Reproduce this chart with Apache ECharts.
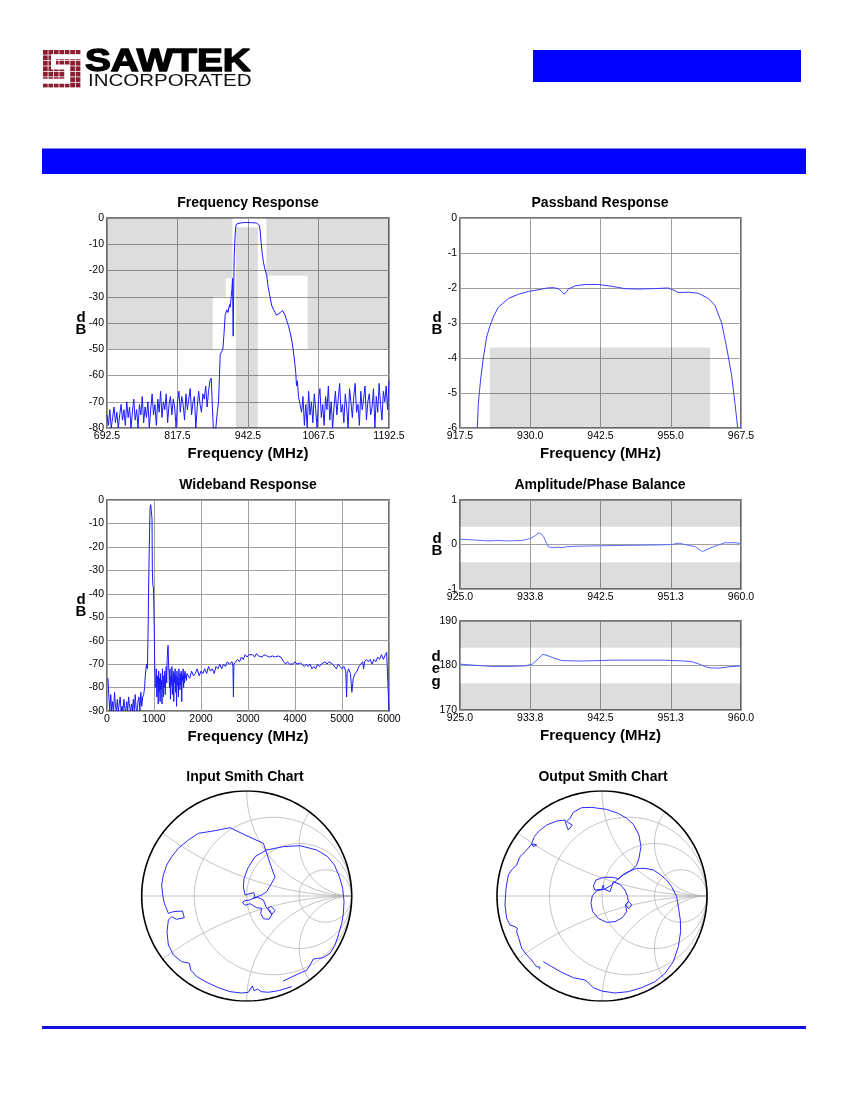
<!DOCTYPE html>
<html>
<head>
  <meta charset="utf-8">
  <title>SAWTEK filter response</title>
  <script src="https://cdn.jsdelivr.net/npm/echarts@6/dist/echarts.min.js"></script>
  <style>
    html, body { margin: 0; padding: 0; background: #fff; }
    #chart { width: 850px; height: 1100px; }
  </style>
</head>
<body>
<div id="chart"></div>
<script>
  // ---- Frequency response (MHz, dB) ----
  var frLeftStart = 692.5, frStep = 2.5;
  var frLeftNoise = [
    -75, -79, -73, -80, -76, -72, -78, -74, -80, -75,
    -71, -77, -73, -79, -70, -76, -72, -80, -74, -69,
    -77, -73, -80, -71, -75, -68, -78, -72, -76, -70,
    -80, -73, -67, -75, -71, -79, -69, -74, -66, -76,
    -70, -73, -67, -78, -71, -68, -75, -69, -72, -80,
    -70, -66, -74, -68, -71, -77, -67, -73, -69, -65,
    -75, -70, -68, -80, -72, -66, -71, -74, -67, -69,
    -64, -72, -66, -62
  ];
  var frSkirt = [
    [877.3, -61], [879, -70], [881, -80], [885.5, -80], [888, -74], [890.3, -70],
    [893.2, -52], [895.5, -51], [897.9, -50], [900, -44], [902, -37], [905, -35],
    [907, -36], [909.7, -33], [911, -34], [912.7, -30], [914, -27], [915, -23],
    [916.2, -45], [917, -30], [918, -15], [919.5, -7], [921, -3], [923, -2.2],
    [926, -1.9], [932, -1.8], [940, -1.7], [950, -1.8], [958, -1.9], [961, -2],
    [963, -3], [964.5, -6], [966, -10], [968, -14], [970, -17], [972, -19],
    [975.8, -22], [978, -26], [980.6, -29], [984.7, -33.5], [988, -35], [990.6, -36],
    [993, -37], [996.5, -37], [1000, -36], [1003.6, -35.2], [1008.3, -37], [1011, -39],
    [1014.2, -41], [1017, -43.5], [1020.1, -46.5], [1024.3, -53], [1027.2, -59],
    [1028.5, -64], [1030.1, -62], [1032, -68], [1034.8, -71]
  ];
  var frRightStart = 1037.5;
  var frRightNoise = [
    -74, -68, -79, -71, -80, -66, -75, -70, -78, -67,
    -73, -80, -69, -65, -76, -71, -79, -68, -73, -64,
    -77, -70, -80, -72, -66, -75, -69, -63, -74, -71,
    -78, -67, -72, -80, -65, -70, -76, -68, -63, -74,
    -71, -79, -66, -73, -69, -64, -77, -70, -67, -75,
    -72, -65, -80, -68, -74, -63, -71, -77, -66, -70,
    -64, -73, -62
  ];
  // spec mask boxes [x1, y1, x2, y2]
  var frMask = [
    [692.5, 0, 880, -50], [880, 0, 903, -30], [903, 0, 915, -23],
    [921, -3.5, 960, -80], [975, 0, 1048, -22], [1048, 0, 1192.5, -50]
  ];

  // ---- Passband response ----
  var pbCurve = [
    [920.58, -6], [920.76, -5.3], [921.18, -4.6], [921.65, -4.0], [922.24, -3.4],
    [922.8, -3.1], [923.5, -2.8], [924.32, -2.55], [926.1, -2.3], [927.88, -2.18],
    [929.66, -2.1], [931.44, -2.05], [933.0, -2.0], [934.11, -1.99], [935.0, -2.02],
    [935.6, -2.1], [936.06, -2.18], [936.5, -2.1], [936.78, -2.03], [937.96, -1.94],
    [939.74, -1.9], [942.11, -1.9], [944.49, -1.95], [946.86, -2.02], [949.23, -2.03],
    [951.6, -2.02], [954.57, -2.0], [955.5, -2.06], [956.35, -2.13], [958.13, -2.12],
    [959.91, -2.15], [961.69, -2.3], [962.87, -2.5], [964.06, -3.0], [964.95, -3.7],
    [965.84, -4.5], [966.43, -5.3], [966.91, -6]
  ];
  var pbMask = [[922.8, -3.7, 962, -6]];

  // ---- Wideband response ----
  var wbLowStart = 20, wbLowStep = 20;
  var wbLowNoise = [
    -76, -84, -90, -83, -90, -86, -90, -82, -88, -90,
    -85, -90, -87, -84, -90, -88, -90, -85, -89, -90,
    -86, -90, -84, -88, -90, -87, -90, -85, -90, -83,
    -89, -90, -86, -84, -90, -82, -88, -84, -83, -80
  ];
  var wbPeak = [
    [814, -75], [840, -70], [860, -72], [875, -55], [885, -38], [900, -20],
    [915, -4], [930, -2], [945, -2], [958, -8], [965, -30], [975, -36],
    [990, -38], [1005, -55], [1015, -70], [1027, -80]
  ];
  var wbMidStart = 1040, wbMidStep = 10;
  var wbMidNoise = [
    -78, -72, -84, -75, -80, -87, -73, -82, -76, -86,
    -74, -81, -77, -87, -72, -79, -84, -75, -80, -73,
    -83, -76, -71, -78, -68, -64, -62, -70, -74, -80,
    -72, -85, -75, -79, -71, -83, -76, -73, -86, -74,
    -78, -72, -82, -75, -88, -73, -79, -76, -84, -72,
    -77, -81, -74, -79, -73, -86, -75, -77, -72, -80,
    -74, -78, -73, -76, -75, -77, -74
  ];
  var wbHigh = [
    [1720, -74], [1760, -76], [1800, -73], [1840, -75], [1880, -74], [1920, -72],
    [1960, -75], [2000, -73], [2040, -74], [2080, -72], [2120, -74], [2160, -71],
    [2200, -73], [2240, -72], [2280, -74], [2320, -71], [2360, -72], [2400, -70],
    [2440, -72], [2480, -70], [2520, -71], [2560, -69], [2600, -70], [2660, -69],
    [2680, -71], [2690, -84], [2700, -70], [2740, -69], [2780, -68], [2820, -69],
    [2860, -67], [2900, -68], [2940, -66], [2980, -67], [3020, -66], [3060, -66.5],
    [3100, -66], [3140, -67], [3180, -65.5], [3220, -66.5], [3260, -66], [3300, -67],
    [3340, -66], [3400, -66.5], [3460, -67], [3520, -66.5], [3580, -67], [3640, -66.5],
    [3700, -67], [3740, -67], [3760, -69], [3800, -70], [3840, -69], [3880, -70],
    [3920, -69.5], [3960, -70], [4000, -69], [4040, -70], [4080, -70.5], [4120, -69.5],
    [4160, -70], [4200, -71], [4240, -70], [4280, -71], [4320, -70], [4360, -72],
    [4400, -71], [4440, -72], [4480, -70], [4520, -71], [4560, -70], [4600, -70.5],
    [4640, -69], [4680, -70], [4720, -69], [4760, -68.5], [4800, -70], [4840, -70],
    [4880, -72], [4920, -70], [4960, -71], [5000, -72], [5040, -71], [5080, -73],
    [5098, -84], [5110, -74], [5140, -72], [5180, -74], [5210, -82], [5225, -82],
    [5240, -76], [5280, -74], [5320, -73], [5360, -71], [5400, -70], [5440, -69],
    [5460, -72], [5480, -69], [5520, -68], [5560, -69], [5600, -68], [5640, -70],
    [5680, -68], [5720, -69], [5760, -67], [5800, -68], [5840, -66], [5880, -68],
    [5920, -66], [5950, -65], [5990, -65], [6000, -90]
  ];

  // ---- Amplitude / phase balance ----
  var ampCurve = [
    [925, 0.12], [926.9, 0.1], [928.5, 0.08], [929.6, 0.09], [931.0, 0.08], [932.7, 0.09],
    [933.7, 0.13], [934.4, 0.2], [934.8, 0.26], [935.1, 0.24], [935.4, 0.18], [935.8, 0.02],
    [936.0, -0.05], [936.4, -0.07], [937.2, -0.06], [937.7, -0.07], [938.3, -0.05],
    [939.3, -0.04], [942.2, -0.03], [945.5, -0.02], [949.7, -0.01], [951.4, 0.0],
    [952.2, 0.03], [953.0, 0.0], [953.5, -0.02], [954.3, -0.05], [955.2, -0.16],
    [956.4, -0.06], [958.0, 0.04], [959.3, 0.04], [960, 0.02]
  ];
  var ampMask = [[925, 1, 960, 0.4], [925, -0.4, 960, -1]];
  var phaseCurve = [
    [925, 180.3], [926.5, 180.1], [928.9, 179.8], [931, 179.8], [933.1, 179.9],
    [934.0, 180.3], [934.8, 181.6], [935.3, 182.5], [935.8, 182.3], [936.5, 181.8],
    [937.7, 181.1], [940, 181.0], [942.2, 181.1], [943.9, 181.2], [950.5, 181.2],
    [953.0, 181.0], [953.8, 180.9], [954.8, 180.3], [955.9, 179.5], [957.2, 179.4],
    [958.5, 179.7], [960, 179.9]
  ];
  var phaseMask = [[925, 190, 960, 184], [925, 176, 960, 170]];

  // ---- Smith charts (reflection coefficient re, im) ----
  var smithInput = [
    [0.349, -0.810], [0.429, -0.771], [0.524, -0.727], [0.571, -0.708], [0.603, -0.657],
    [0.635, -0.600], [0.683, -0.594], [0.730, -0.587], [0.794, -0.546], [0.841, -0.467],
    [0.873, -0.371], [0.905, -0.260], [0.921, -0.165], [0.927, -0.054], [0.914, 0.073],
    [0.883, 0.184], [0.835, 0.295], [0.771, 0.375], [0.667, 0.438], [0.508, 0.479],
    [0.349, 0.470], [0.190, 0.438], [0.079, 0.375], [0.010, 0.263], [-0.025, 0.168],
    [-0.032, 0.089], [-0.016, 0.010], [-0.006, 0.029], [0.067, 0.032], [0.079, -0.010],
    [0.032, -0.038], [-0.016, -0.044], [-0.041, -0.060], [-0.016, -0.089], [0.032, -0.073],
    [0.095, -0.111], [0.143, -0.117], [0.133, -0.165], [0.159, -0.216], [0.213, -0.222],
    [0.238, -0.181], [0.222, -0.140], [0.200, -0.117], [0.232, -0.098], [0.270, -0.140],
    [0.238, -0.175], [0.206, -0.133], [0.184, -0.102], [0.159, -0.038], [0.105, -0.013],
    [0.063, -0.022], [0.143, 0.010], [0.190, 0.041], [0.270, 0.178], [0.222, 0.311],
    [0.159, 0.502], [-0.016, 0.581], [-0.159, 0.651], [-0.302, 0.622], [-0.460, 0.597],
    [-0.556, 0.533], [-0.651, 0.454], [-0.714, 0.375], [-0.762, 0.295], [-0.794, 0.200],
    [-0.810, 0.105], [-0.800, 0.010], [-0.784, -0.070], [-0.746, -0.165], [-0.698, -0.149],
    [-0.613, -0.143], [-0.594, -0.206], [-0.667, -0.222], [-0.714, -0.197], [-0.746, -0.229],
    [-0.759, -0.340], [-0.746, -0.467], [-0.698, -0.562], [-0.619, -0.625], [-0.546, -0.641],
    [-0.533, -0.705], [-0.476, -0.768], [-0.381, -0.822], [-0.270, -0.873], [-0.159, -0.911],
    [-0.048, -0.924], [0.016, -0.917], [0.035, -0.886], [0.054, -0.857], [0.073, -0.873],
    [0.070, -0.902], [0.105, -0.886], [0.137, -0.911], [0.206, -0.917], [0.302, -0.902],
    [0.429, -0.863]
  ];
  var smithOutput = [
    [-0.559, -0.625], [-0.479, -0.673], [-0.384, -0.727], [-0.273, -0.778], [-0.162, -0.800],
    [-0.124, -0.832], [-0.083, -0.873], [-0.003, -0.905], [0.124, -0.924], [0.251, -0.911],
    [0.378, -0.873], [0.505, -0.816], [0.600, -0.737], [0.679, -0.625], [0.727, -0.483],
    [0.749, -0.340], [0.746, -0.229], [0.727, -0.102], [0.711, -0.006], [0.663, 0.089],
    [0.616, 0.152], [0.552, 0.206], [0.489, 0.248], [0.410, 0.263], [0.330, 0.263],
    [0.267, 0.238], [0.203, 0.200], [0.156, 0.162], [0.108, 0.178], [0.013, 0.178],
    [-0.057, 0.152], [-0.083, 0.095], [-0.067, 0.057], [-0.003, 0.063], [0.013, 0.105],
    [0.019, 0.067], [0.076, 0.041], [0.092, 0.089], [0.108, 0.137], [0.171, 0.111],
    [0.219, 0.057], [0.244, -0.006], [0.251, -0.054], [0.225, -0.086], [0.254, -0.051],
    [0.283, -0.086], [0.254, -0.121], [0.225, -0.086], [0.235, -0.149], [0.194, -0.206],
    [0.124, -0.244], [0.044, -0.251], [-0.035, -0.213], [-0.089, -0.149], [-0.105, -0.070],
    [-0.092, 0.003], [-0.051, 0.048], [0.029, 0.067], [0.092, 0.105], [0.140, 0.152],
    [0.203, 0.206], [0.283, 0.248], [0.330, 0.295], [0.352, 0.359], [0.371, 0.470],
    [0.352, 0.581], [0.298, 0.683], [0.235, 0.740], [0.156, 0.787], [0.044, 0.825],
    [-0.098, 0.844], [-0.194, 0.841], [-0.273, 0.797], [-0.305, 0.740], [-0.337, 0.708],
    [-0.283, 0.676], [-0.321, 0.629], [-0.343, 0.683], [-0.352, 0.724], [-0.432, 0.714],
    [-0.527, 0.676], [-0.606, 0.613], [-0.644, 0.565], [-0.670, 0.502], [-0.654, 0.470],
    [-0.622, 0.486], [-0.670, 0.495], [-0.717, 0.438], [-0.781, 0.375], [-0.813, 0.295],
    [-0.860, 0.248], [-0.892, 0.200], [-0.914, 0.073], [-0.924, -0.086], [-0.908, -0.213],
    [-0.876, -0.276], [-0.829, -0.292], [-0.806, -0.308], [-0.813, -0.340], [-0.797, -0.387],
    [-0.765, -0.498], [-0.717, -0.562], [-0.670, -0.610], [-0.648, -0.641], [-0.632, -0.651],
    [-0.622, -0.673], [-0.590, -0.679], [-0.597, -0.698]
  ];
  var smithR = [1 / 3, 1, 3];
  var smithX = [1 / 3, 1, 2, -1 / 3, -1, -2];

  var FONT = 'Liberation Sans, Arial, sans-serif';
  var LINE_BLUE = '#1a1aff';
  var GRID_GREY = '#a0a0a0';

  function sweep(start, step, values) {
    return values.map(function (v, i) { return [start + i * step, v]; });
  }

  var frCurve = sweep(frLeftStart, frStep, frLeftNoise)
    .concat(frSkirt, sweep(frRightStart, frStep, frRightNoise));
  var wbCurve = sweep(wbLowStart, wbLowStep, wbLowNoise)
    .concat(wbPeak, sweep(wbMidStart, wbMidStep, wbMidNoise), wbHigh);

  function maskArea(boxes) {
    return {
      silent: true,
      itemStyle: { color: 'rgba(0,0,0,0.135)' },
      data: boxes.map(function (b) {
        return [{ coord: [b[0], b[1]] }, { coord: [b[2], b[3]] }];
      })
    };
  }

  // smith chart furniture: constant r circles and constant x arcs
  function smithPoint(r, x) {
    var den = (r + 1) * (r + 1) + x * x;
    return [(r * r + x * x - 1) / den, (2 * x) / den];
  }
  function rCircle(r) {
    var pts = [];
    for (var i = 0; i <= 180; i++) {
      var t = i / 180 * 2 * Math.PI;
      pts.push([r / (1 + r) + Math.cos(t) / (1 + r), Math.sin(t) / (1 + r)]);
    }
    return pts;
  }
  function xArc(x) {
    var pts = [];
    for (var i = 0; i < 120; i++) {
      pts.push(smithPoint(Math.tan(i / 120 * Math.PI / 2), x));
    }
    pts.push([1, 0]);
    return pts;
  }

  var grids = [
    { left: 107, top: 218, width: 282, height: 210 },
    { left: 460, top: 218, width: 281, height: 210 },
    { left: 107, top: 500, width: 282, height: 211 },
    { left: 460, top: 500, width: 281, height: 89 },
    { left: 460, top: 621, width: 281, height: 89 },
    { left: 141.7, top: 791, width: 210, height: 210 },
    { left: 497, top: 791, width: 210, height: 210 }
  ].map(function (g, i) {
    return Object.assign(g, {
      show: i < 5,
      borderColor: '#4a4a4a',
      borderWidth: 1.6,
      backgroundColor: 'transparent'
    });
  });

  function axis(gridIndex, min, max, interval, digits, name) {
    return {
      type: 'value', gridIndex: gridIndex, min: min, max: max, interval: interval,
      name: name || '', nameLocation: 'middle', nameGap: 18,
      nameTextStyle: { fontFamily: FONT, fontWeight: 'bold', fontSize: 15, color: '#000' },
      axisLine: { show: false }, axisTick: { show: false },
      axisLabel: {
        fontFamily: FONT, fontSize: 10.5, color: '#000', margin: 3,
        formatter: function (v) { return v.toFixed(digits); }
      },
      splitLine: { show: true, lineStyle: { color: GRID_GREY, width: 1 } }
    };
  }
  function hiddenAxis(gridIndex) {
    return { type: 'value', gridIndex: gridIndex, min: -1, max: 1, show: false, splitLine: { show: false } };
  }

  var xAxes = [
    axis(0, 692.5, 1192.5, 125, 1, 'Frequency (MHz)'),
    axis(1, 917.5, 967.5, 12.5, 1, 'Frequency (MHz)'),
    axis(2, 0, 6000, 1000, 0, 'Frequency (MHz)'),
    axis(3, 925, 960, 8.75, 1),
    axis(4, 925, 960, 8.75, 1, 'Frequency (MHz)'),
    hiddenAxis(5), hiddenAxis(6)
  ];
  var yAxes = [
    axis(0, -80, 0, 10, 0),
    axis(1, -6, 0, 1, 0),
    axis(2, -90, 0, 10, 0),
    axis(3, -1, 1, 1, 0),
    axis(4, 170, 190, 10, 0),
    hiddenAxis(5), hiddenAxis(6)
  ];

  function curve(idx, data, color, mask) {
    var s = {
      type: 'line', xAxisIndex: idx, yAxisIndex: idx, data: data,
      showSymbol: false, symbol: 'none', silent: true, animation: false, z: 5,
      lineStyle: { color: color, width: 1 }
    };
    if (mask) s.markArea = maskArea(mask);
    return s;
  }
  function smithLine(idx, data, color, width, z) {
    return {
      type: 'line', xAxisIndex: idx, yAxisIndex: idx, data: data,
      showSymbol: false, symbol: 'none', silent: true, animation: false, z: z,
      lineStyle: { color: color, width: width }
    };
  }

  var series = [
    curve(0, frCurve, LINE_BLUE, frMask),
    curve(1, pbCurve, '#3a3aff', pbMask),
    curve(2, wbCurve, LINE_BLUE),
    curve(3, ampCurve, '#5a6cff', ampMask),
    curve(4, phaseCurve, '#4a5aff', phaseMask)
  ];
  [5, 6].forEach(function (idx) {
    smithR.forEach(function (r) { series.push(smithLine(idx, rCircle(r), '#b4b4b4', 0.8, 3)); });
    smithX.forEach(function (x) { series.push(smithLine(idx, xArc(x), '#b4b4b4', 0.8, 3)); });
    series.push(smithLine(idx, [[-1, 0], [1, 0]], '#b4b4b4', 0.8, 3));
    series.push(smithLine(idx, rCircle(0), '#000', 1.6, 4));
  });
  series.push(smithLine(5, smithInput, '#2a2aff', 1, 6));
  series.push(smithLine(6, smithOutput, '#2a2aff', 1, 6));

  function label(text, x, y, size, extra) {
    return {
      type: 'text', x: x, y: y, silent: true,
      style: Object.assign({
        text: text, fill: '#000', textAlign: 'center', textVerticalAlign: 'middle',
        font: 'bold ' + size + 'px ' + FONT
      }, extra || {})
    };
  }

  // logo: maroon check grid with a white S
  var logo = [];
  for (var r = 0; r < 7; r++) {
    for (var c = 0; c < 7; c++) {
      logo.push({
        type: 'rect', silent: true,
        shape: { x: 43 + c * 5.45, y: 50 + r * 5.45, width: 4.7, height: 4.7 },
        style: { fill: '#8c1c30' }
      });
    }
  }
  logo.push({
    type: 'polyline', silent: true,
    shape: { points: [[82, 56.8], [53.5, 56.8], [53.5, 67], [67.5, 67], [67.5, 81.3], [42, 81.3]] },
    style: { stroke: '#fff', lineWidth: 5, fill: null }
  });

  var graphics = logo.concat([
    {
      type: 'text', x: 85, y: 78, scaleX: 1.25, silent: true,
      style: {
        text: 'SAWTEK', fill: '#000', stroke: '#000', lineWidth: 1.3,
        font: 'bold 31px ' + FONT, textVerticalAlign: 'bottom'
      }
    },
    {
      type: 'text', x: 88, y: 90, scaleX: 1.28, silent: true,
      style: { text: 'INCORPORATED', fill: '#111', font: '16px ' + FONT, textVerticalAlign: 'bottom' }
    },
    { type: 'rect', silent: true, shape: { x: 533, y: 50, width: 268, height: 32 }, style: { fill: '#0000ff' } },
    { type: 'rect', silent: true, shape: { x: 42, y: 148.5, width: 764, height: 25.5 }, style: { fill: '#0000ff' } },
    { type: 'rect', silent: true, shape: { x: 42, y: 1026, width: 764, height: 3 }, style: { fill: '#1010e0' } },
    label('Frequency Response', 248, 203, 14),
    label('Passband Response', 600, 203, 14),
    label('Wideband Response', 248, 485, 14),
    label('Amplitude/Phase Balance', 600, 485, 14),
    label('Input Smith Chart', 245, 777, 14),
    label('Output Smith Chart', 603, 777, 14),
    label('d\nB', 81, 324, 15, { lineHeight: 12 }),
    label('d\nB', 437, 324, 15, { lineHeight: 12 }),
    label('d\nB', 81, 606, 15, { lineHeight: 12 }),
    label('d\nB', 437, 545, 15, { lineHeight: 12 }),
    label('d\ne\ng', 436, 669, 15, { lineHeight: 12.5 })
  ]);

  var chart = echarts.init(document.getElementById('chart'), null, { renderer: 'canvas' });
  chart.setOption({
    backgroundColor: '#fff',
    animation: false,
    grid: grids,
    xAxis: xAxes,
    yAxis: yAxes,
    series: series,
    graphic: graphics
  });
</script>
</body>
</html>
